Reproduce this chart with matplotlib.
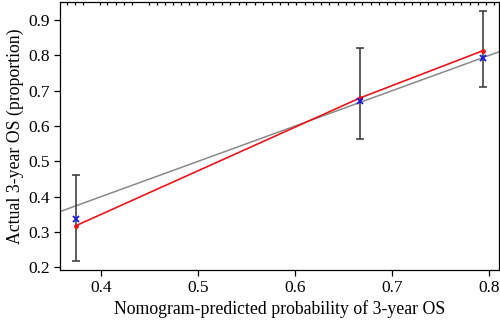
import matplotlib as mpl
mpl.use("Agg")
import matplotlib.pyplot as plt
import numpy as np

plt.rcParams["font.family"] = "serif"
plt.rcParams["font.serif"] = ["Liberation Serif", "DejaVu Serif"]

# calibration groups
predicted = [0.3743, 0.6665, 0.7933]
observed = [0.337, 0.670, 0.793]
corrected = [0.318, 0.679, 0.813]
ci_low = [0.219, 0.562, 0.710]
ci_high = [0.461, 0.821, 0.925]

# rug of predicted probabilities along the top
rug = [0.3653, 0.3733, 0.3812, 0.399, 0.4069, 0.4154, 0.424, 0.4322,
       0.4497, 0.4583, 0.4658, 0.4744, 0.483, 0.4908, 0.4995,
       0.508, 0.516, 0.525, 0.533, 0.542, 0.550, 0.559, 0.567, 0.576,
       0.584, 0.593, 0.601, 0.610, 0.618, 0.627, 0.635, 0.644, 0.652,
       0.661, 0.669, 0.678, 0.686, 0.695, 0.703, 0.712, 0.720, 0.729,
       0.737, 0.746, 0.754, 0.763, 0.771, 0.780, 0.788, 0.797, 0.805]

fig = plt.figure(figsize=(5, 3.26), dpi=100)
ax = fig.add_axes([0.12, 0.172, 0.878, 0.822])

xlim = (0.358, 0.810)
ylim = (0.193, 0.951)

# ideal line
ax.plot(xlim, xlim, color="#8a8a8a", lw=1.1, zorder=2)

pred = np.array(predicted)
obs = np.array(observed)
yerr = [obs - np.array(ci_low), np.array(ci_high) - obs]
ax.errorbar(pred, obs, yerr=yerr, fmt="none", ecolor="#333333",
            elinewidth=1.1, capsize=3, capthick=1.1, zorder=3)

ax.plot(pred, corrected, color="#e8161b", lw=1.2, marker="o", ms=2.5,
        zorder=4)
ax.plot(pred, obs, ls="none", marker="x", color="#1a1adb", ms=4, mew=1.3,
        zorder=5)

# rug ticks
ax.vlines(rug, ylim[1] - 0.009, ylim[1], color="black", lw=0.9, zorder=6)

ax.set_xlim(*xlim)
ax.set_ylim(*ylim)
ax.set_xticks([0.4, 0.5, 0.6, 0.7, 0.8])
ax.set_xticklabels(["0.4", "0.5", "0.6", "0.7", "0.8"])
ax.set_yticks([0.2, 0.3, 0.4, 0.5, 0.6, 0.7, 0.8, 0.9])
ax.set_yticklabels(["0.2", "0.3", "0.4", "0.5", "0.6", "0.7", "0.8", "0.9"])
ax.tick_params(direction="out", length=4, width=0.9, labelsize=12.5,
               pad=3)
for s in ax.spines.values():
    s.set_linewidth(0.9)

ax.set_xlabel("Nomogram-predicted probability of 3-year OS", fontsize=12.8,
              labelpad=3)
ax.set_ylabel("Actual 3-year OS (proportion)", fontsize=12.8, labelpad=3)

fig.savefig("out.png", dpi=100)
